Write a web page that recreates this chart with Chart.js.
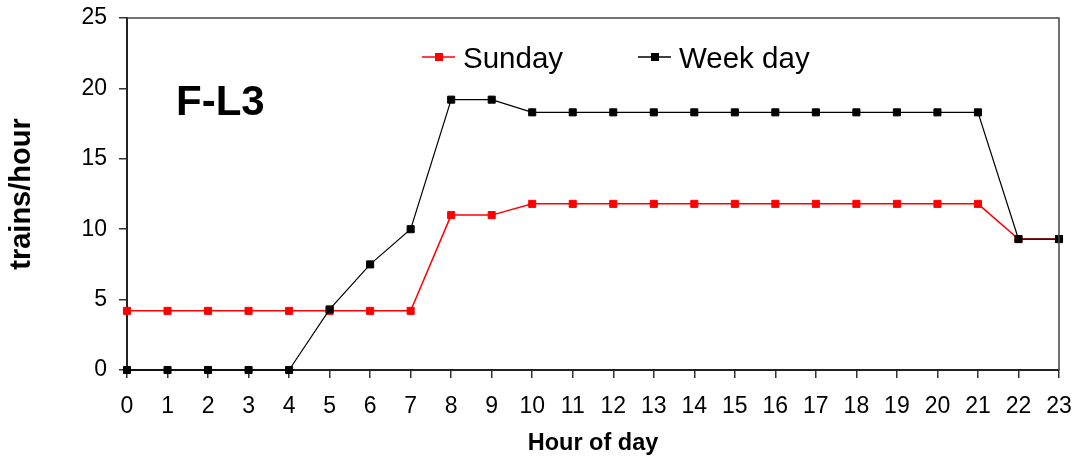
<!DOCTYPE html>
<html>
<head>
<meta charset="utf-8">
<script src="https://cdn.jsdelivr.net/npm/chart.js@4.4.0/dist/chart.umd.min.js"></script>
<style>
  html, body { margin: 0; padding: 0; background: #fff; }
  #wrap { width: 1079px; height: 462px; }
</style>
</head>
<body>
<div id="wrap"><canvas id="trainChart" width="1079" height="462"></canvas></div>
<script>
const hours = [0, 1, 2, 3, 4, 5, 6, 7, 8, 9, 10, 11, 12, 13, 14, 15, 16, 17, 18, 19, 20, 21, 22, 23];
const sunday = [4.2, 4.2, 4.2, 4.2, 4.2, 4.2, 4.2, 4.2, 11, 11, 11.8, 11.8, 11.8, 11.8, 11.8, 11.8, 11.8, 11.8, 11.8, 11.8, 11.8, 11.8, 9.3, 9.3];
const weekDay = [0, 0, 0, 0, 0, 4.3, 7.5, 10, 19.2, 19.2, 18.3, 18.3, 18.3, 18.3, 18.3, 18.3, 18.3, 18.3, 18.3, 18.3, 18.3, 18.3, 9.3, 9.3];
const seriesNames = ["Sunday", "Week day"];
const chartLabel = "F-L3";

const FONT = "'Liberation Sans', Arial, sans-serif";

function toPoints(values) {
  return hours.map((h, i) => ({ x: h, y: values[i] }));
}

// frame on top/right, the "F-L3" label and the line+marker legend
const extras = {
  id: "extras",
  afterDraw(chart) {
    const { ctx, chartArea: a } = chart;
    ctx.save();
    ctx.strokeStyle = "#444";
    ctx.lineWidth = 1.5;
    ctx.beginPath();
    ctx.moveTo(a.left, a.top);
    ctx.lineTo(a.right, a.top);
    ctx.lineTo(a.right, a.bottom);
    ctx.stroke();

    ctx.fillStyle = "#000";
    ctx.font = "bold 42px " + FONT;
    ctx.textBaseline = "alphabetic";
    ctx.fillText(chartLabel, 176, 115);

    const items = [
      { name: seriesNames[0], color: "#ff0000", x: 422 },
      { name: seriesNames[1], color: "#000000", x: 638 }
    ];
    ctx.font = "29.5px " + FONT;
    items.forEach(it => {
      ctx.strokeStyle = it.color;
      ctx.lineWidth = 1.5;
      ctx.beginPath();
      ctx.moveTo(it.x, 57);
      ctx.lineTo(it.x + 33, 57);
      ctx.stroke();
      ctx.fillStyle = it.color;
      ctx.fillRect(it.x + 13, 53, 8, 8);
      ctx.fillStyle = "#000";
      ctx.fillText(it.name, it.x + 41, 68);
    });
    ctx.restore();
  }
};

new Chart(document.getElementById("trainChart").getContext("2d"), {
  type: "line",
  data: {
    datasets: [
      {
        label: seriesNames[0],
        data: toPoints(sunday),
        borderColor: "#ff0000",
        backgroundColor: "#ff0000",
        borderWidth: 1.5,
        pointStyle: "rect",
        pointRadius: 5,
        pointBorderWidth: 1,
        tension: 0,
        clip: false,
        order: 1
      },
      {
        label: seriesNames[1],
        data: toPoints(weekDay),
        borderColor: "#000000",
        backgroundColor: "#000000",
        borderWidth: 1.2,
        pointStyle: "rect",
        pointRadius: 5,
        pointBorderWidth: 1,
        tension: 0,
        clip: false,
        order: 0
      }
    ]
  },
  options: {
    responsive: false,
    animation: false,
    devicePixelRatio: 1,
    layout: { padding: { left: 0, right: 20, top: 18, bottom: 0 } },
    plugins: {
      legend: { display: false },
      tooltip: { enabled: false }
    },
    scales: {
      x: {
        type: "linear",
        min: 0,
        max: 23,
        afterFit(scale) {
          scale.height = 92;
          scale.paddingLeft = 0;
          scale.paddingRight = 0;
        },
        ticks: {
          stepSize: 1,
          autoSkip: false,
          maxRotation: 0,
          color: "#000",
          padding: 15,
          font: { family: FONT, size: 23 }
        },
        grid: { drawOnChartArea: false, tickLength: 8, color: "#333", lineWidth: 1.5 },
        border: { color: "#222", width: 2 },
        title: {
          display: true,
          text: "Hour of day",
          color: "#000",
          padding: { top: 0, bottom: 4 },
          font: { family: FONT, size: 23.5, weight: "bold" }
        }
      },
      y: {
        min: 0,
        max: 25,
        afterFit(scale) {
          scale.width = 127;
          scale.paddingTop = 0;
          scale.paddingBottom = 0;
        },
        ticks: {
          stepSize: 5,
          color: "#000",
          padding: 12,
          font: { family: FONT, size: 23 }
        },
        grid: { drawOnChartArea: false, tickLength: 8, color: "#333", lineWidth: 1.5 },
        border: { color: "#222", width: 2 },
        title: {
          display: true,
          text: "trains/hour",
          color: "#000",
          padding: { top: 5, bottom: 0 },
          font: { family: FONT, size: 29, weight: "bold" }
        }
      }
    }
  },
  plugins: [extras]
});
</script>
</body>
</html>
